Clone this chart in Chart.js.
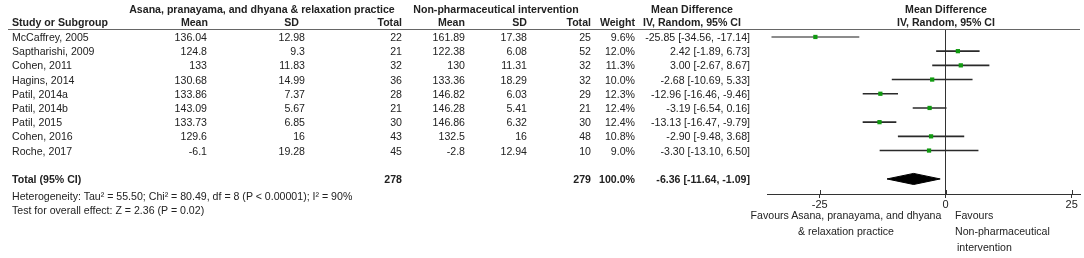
<!DOCTYPE html>
<html>
<head>
<meta charset="utf-8">
<script src="https://cdn.jsdelivr.net/npm/chart.js@4.4.1/dist/chart.umd.min.js"></script>
<style>
html, body { margin: 0; padding: 0; background: #fff; }
#wrap { position: relative; width: 1084px; height: 258px; overflow: hidden;
        font-family: 'Liberation Sans', Arial, sans-serif; font-size: 10.6px; color: #222; }
#forest { position: absolute; left: 0; top: 0; }
.t { position: absolute; white-space: nowrap; line-height: 12px; transform: translateY(-50%); }
.b { font-weight: bold; }
#rule { position: absolute; left: 8px; top: 29px; width: 1072px; height: 0; border-top: 1px solid #666; }
</style>
</head>
<body>
<div id="wrap">
  <canvas id="forest" width="1084" height="258"></canvas>
  <div id="rule"></div>
</div>
<script>
// Studi inclusi e statistiche per gruppo
const studies = ['McCaffrey, 2005', 'Saptharishi, 2009', 'Cohen, 2011', 'Hagins, 2014', 'Patil, 2014a',
                 'Patil, 2014b', 'Patil, 2015', 'Cohen, 2016', 'Roche, 2017'];
const expMean  = ['136.04', '124.8', '133', '130.68', '133.86', '143.09', '133.73', '129.6', '-6.1'];
const expSD    = ['12.98', '9.3', '11.83', '14.99', '7.37', '5.67', '6.85', '16', '19.28'];
const expTotal = [22, 21, 32, 36, 28, 21, 30, 43, 45];
const ctlMean  = ['161.89', '122.38', '130', '133.36', '146.82', '146.28', '146.86', '132.5', '-2.8'];
const ctlSD    = ['17.38', '6.08', '11.31', '18.29', '6.03', '5.41', '6.32', '16', '12.94'];
const ctlTotal = [25, 52, 32, 32, 29, 21, 30, 48, 10];
const weight   = [9.6, 12.0, 11.3, 10.0, 12.3, 12.4, 12.4, 10.8, 9.0];
const meanDiff = [-25.85, 2.42, 3.00, -2.68, -12.96, -3.19, -13.13, -2.90, -3.30];
const ciLow    = [-34.56, -1.89, -2.67, -10.69, -16.46, -6.54, -16.47, -9.48, -13.10];
const ciHigh   = [-17.14, 6.73, 8.67, 5.33, -9.46, 0.16, -9.79, 3.68, 6.50];

// Stima complessiva (random effects)
const pooledMD = -6.36;
const pooledLow = -11.64;
const pooledHigh = -1.09;
const pooledExpTotal = 278;
const pooledCtlTotal = 279;
const pooledWeight = 100.0;

const axisTicks = [-25, 0, 25];
const totalRow = 10;

const datasets = [];

// Intervalli di confidenza: un segmento per studio
studies.forEach((s, i) => {
    datasets.push({
        label: s,
        data: [{ x: ciLow[i], y: i }, { x: ciHigh[i], y: i }],
        showLine: true,
        borderColor: i === 0 ? '#666' : '#2a2a2a',
        borderWidth: 1.6,
        pointRadius: 0,
        order: 2
    });
});

// Stime puntuali (quadratini verdi)
datasets.push({
    label: 'MD',
    data: studies.map((s, i) => ({ x: meanDiff[i], y: i })),
    pointStyle: 'rect',
    pointRadius: 3,
    backgroundColor: '#109a10',
    borderWidth: 0,
    order: 0
});

// Diamante della stima complessiva
const dh = 0.39;
datasets.push({
    label: 'Total',
    data: [
        { x: pooledLow, y: totalRow },
        { x: pooledMD, y: totalRow - dh },
        { x: pooledHigh, y: totalRow },
        { x: pooledMD, y: totalRow + dh },
        { x: pooledLow, y: totalRow }
    ],
    showLine: true,
    fill: 'shape',
    backgroundColor: '#000',
    borderColor: '#000',
    borderWidth: 1,
    pointRadius: 0,
    tension: 0,
    order: 1
});

// Tacche dell'asse anche sopra la linea, come in RevMan
const upTicks = {
    id: 'upTicks',
    afterDraw(chart) {
        const sc = chart.scales.x;
        const ctx = chart.ctx;
        ctx.save();
        ctx.strokeStyle = '#333';
        ctx.lineWidth = 1;
        sc.ticks.forEach(t => {
            const px = Math.round(sc.getPixelForValue(t.value)) + 0.5;
            ctx.beginPath();
            ctx.moveTo(px, chart.chartArea.bottom - 4);
            ctx.lineTo(px, chart.chartArea.bottom);
            ctx.stroke();
        });
        ctx.restore();
    }
};

const chart = new Chart(document.getElementById('forest'), {
    type: 'scatter',
    data: { datasets: datasets },
    options: {
        responsive: false,
        animation: false,
        layout: { padding: { left: 767, right: 4, top: 30, bottom: 0 } },
        plugins: { legend: { display: false }, tooltip: { enabled: false } },
        scales: {
            x: {
                type: 'linear',
                min: -35.45,
                max: 26.65,
                afterBuildTicks: sc => { sc.ticks = axisTicks.map(v => ({ value: v })); },
                afterFit: sc => { sc.height = 64; },
                grid: {
                    color: c => (c.tick && c.tick.value === 0) ? '#333' : 'rgba(0,0,0,0)',
                    lineWidth: 1,
                    tickLength: 4,
                    tickColor: '#333'
                },
                border: { display: true, color: '#333', width: 1 },
                ticks: {
                    color: '#222',
                    font: { family: "'Liberation Sans', Arial, sans-serif", size: 11 },
                    padding: 0,
                    maxRotation: 0,
                    autoSkip: false
                }
            },
            y: { type: 'linear', display: false, reverse: true, min: -0.49, max: 11.06 }
        }
    },
    plugins: [upTicks]
});

// Testo della tabella come HTML, allineato alla scala y del grafico
const wrap = document.getElementById('wrap');
function label(text, x, y, align, bold) {
    const d = document.createElement('div');
    d.className = 't' + (bold ? ' b' : '');
    d.textContent = text;
    if (align === 'right') {
        d.style.right = (1084 - x) + 'px';
    } else if (align === 'center') {
        d.style.left = (x - 200) + 'px';
        d.style.width = '400px';
        d.style.textAlign = 'center';
    } else {
        d.style.left = x + 'px';
    }
    d.style.top = y + 'px';
    wrap.appendChild(d);
}

const yPix = i => chart.scales.y.getPixelForValue(i);

// Intestazioni
label('Asana, pranayama, and dhyana & relaxation practice', 262, 9, 'center', true);
label('Non-pharmaceutical intervention', 496, 9, 'center', true);
label('Mean Difference', 692, 9, 'center', true);
label('Mean Difference', 946, 9, 'center', true);
label('Study or Subgroup', 12, 22, 'left', true);
label('Mean', 208, 22, 'right', true);
label('SD', 299, 22, 'right', true);
label('Total', 402, 22, 'right', true);
label('Mean', 465, 22, 'right', true);
label('SD', 527, 22, 'right', true);
label('Total', 591, 22, 'right', true);
label('Weight', 635, 22, 'right', true);
label('IV, Random, 95% CI', 692, 22, 'center', true);
label('IV, Random, 95% CI', 946, 22, 'center', true);

// Righe degli studi
studies.forEach((s, i) => {
    const y = yPix(i);
    label(s, 12, y, 'left');
    label(expMean[i], 207, y, 'right');
    label(expSD[i], 305, y, 'right');
    label(String(expTotal[i]), 402, y, 'right');
    label(ctlMean[i], 465, y, 'right');
    label(ctlSD[i], 527, y, 'right');
    label(String(ctlTotal[i]), 591, y, 'right');
    label(weight[i].toFixed(1) + '%', 635, y, 'right');
    label(meanDiff[i].toFixed(2) + ' [' + ciLow[i].toFixed(2) + ', ' + ciHigh[i].toFixed(2) + ']', 750, y, 'right');
});

// Riga del totale
const yt = yPix(totalRow);
label('Total (95% CI)', 12, yt, 'left', true);
label(String(pooledExpTotal), 402, yt, 'right', true);
label(String(pooledCtlTotal), 591, yt, 'right', true);
label(pooledWeight.toFixed(1) + '%', 635, yt, 'right', true);
label(pooledMD.toFixed(2) + ' [' + pooledLow.toFixed(2) + ', ' + pooledHigh.toFixed(2) + ']', 750, yt, 'right', true);

label('Heterogeneity: Tau\u00b2 = 55.50; Chi\u00b2 = 80.49, df = 8 (P < 0.00001); I\u00b2 = 90%', 12, 196, 'left');
label('Test for overall effect: Z = 2.36 (P = 0.02)', 12, 210, 'left');

// Etichette "Favours"
label('Favours Asana, pranayama, and dhyana', 846, 215, 'center');
label('& relaxation practice', 846, 231, 'center');
label('Favours', 955, 215, 'left');
label('Non-pharmaceutical', 955, 231, 'left');
label('intervention', 957, 247, 'left');
</script>
</body>
</html>
